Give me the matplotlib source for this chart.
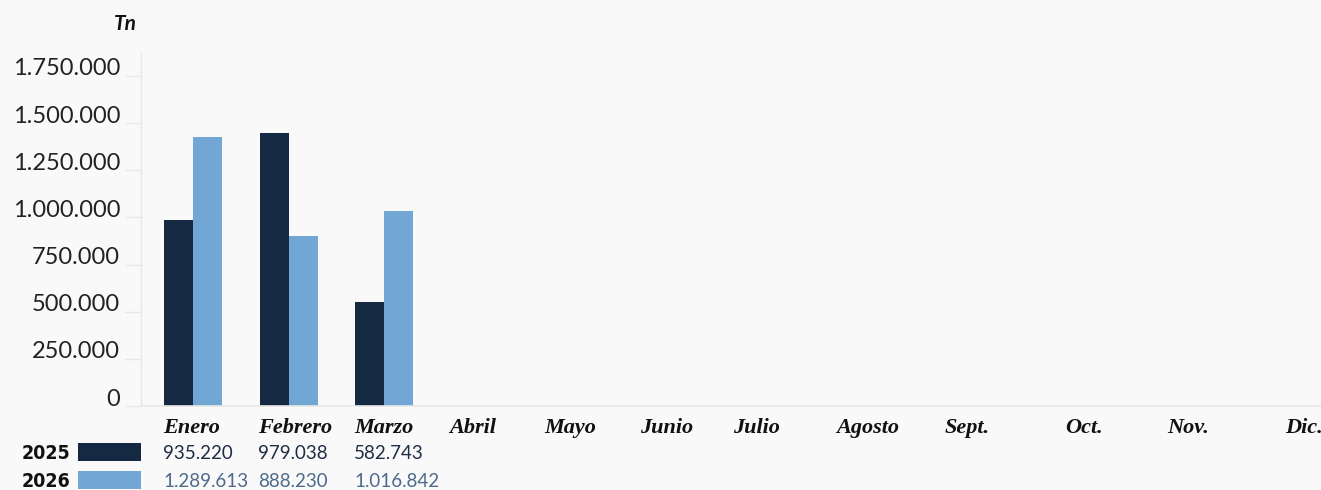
import matplotlib
matplotlib.use("Agg")
import matplotlib.pyplot as plt
import numpy as np
from matplotlib.patches import Rectangle
from matplotlib.transforms import ScaledTranslation

# data
months = ["Enero", "Febrero", "Marzo", "Abril", "Mayo", "Junio", "Julio",
          "Agosto", "Sept.", "Oct.", "Nov.", "Dic."]
series_years = ["2025", "2026"]
bars_2025 = [986000, 1447000, 551000]
bars_2026 = [1426000, 901000, 1034000]
table_2025 = [935220, 979038, 582743]
table_2026 = [1289613, 888230, 1016842]
y_ticks = [0, 250000, 500000, 750000, 1000000, 1250000, 1500000, 1750000]

# layout (pixels of the 1321x490 canvas)
W, H = 1321, 490
COL_LEFT = [163, 258, 354, 449, 544, 640, 733, 836, 945, 1065, 1167, 1285]
DARK = "#152a42"
LIGHT = "#72a6d5"
BG = "#f9f9f9"
LINE = "#e8e8e8"


def fx(x):
    return x / W


def fy(y):
    return 1 - y / H


def fmt(v):
    return f"{int(v):,}".replace(",", ".")


fig = plt.figure(figsize=(W / 100, H / 100), dpi=100, facecolor=BG)

ax_left, ax_right, ax_top, ax_bottom = 141, 1321, 53, 406
ax = fig.add_axes([fx(ax_left), fy(ax_bottom), fx(ax_right - ax_left), (ax_bottom - ax_top) / H])
ax.set_facecolor(BG)

step_px = 95.5
first_center = 193
bar_w = 29 / step_px
ax.set_xlim((ax_left - first_center) / step_px, (ax_right - first_center) / step_px)
px_per_million = 188.6
ax.set_ylim(0, (ax_bottom - ax_top) / px_per_million * 1e6)

idx = np.arange(len(bars_2025))
ax.bar(idx - bar_w / 2, bars_2025, width=bar_w, color=DARK, linewidth=0)
ax.bar(idx + bar_w / 2, bars_2026, width=bar_w, color=LIGHT, linewidth=0)

for side in ["top", "right"]:
    ax.spines[side].set_visible(False)
ax.spines["left"].set_color(LINE)
ax.spines["bottom"].set_color(LINE)
ax.spines["left"].set_linewidth(1)
ax.spines["bottom"].set_linewidth(1.2)
ax.set_xticks([])
ax.set_yticks(y_ticks)
ax.set_yticklabels([fmt(v) for v in y_ticks])
ax.tick_params(axis="y", length=11.5, width=1, color=LINE, pad=3.6,
               labelsize=17, labelcolor="#222222")
for lab in ax.get_yticklabels():
    lab.set_fontfamily("Lato")
    lab.set_transform(lab.get_transform() + ScaledTranslation(0, 0.09, fig.dpi_scale_trans))

# unit label
fig.text(fx(125), fy(24), "Tn", ha="center", va="center", fontsize=15,
         fontfamily="Lato", fontweight="bold", fontstyle="italic", color="#111111")

# month header row
for left, name in zip(COL_LEFT, months):
    fig.text(fx(left), fy(428), name, ha="left", va="center", fontsize=16,
             fontfamily="Liberation Serif", fontweight="bold", fontstyle="italic",
             color="#111111")

# legend + value rows
rows = [(series_years[0], DARK, table_2025, "#1f2d45", 453, 443),
        (series_years[1], LIGHT, table_2026, "#4d6a8a", 481, 471)]
for year, swatch, vals, tcolor, ycen, ytop in rows:
    fig.text(fx(70), fy(ycen), year, ha="right", va="center", fontsize=14,
             fontfamily="DejaVu Sans", fontstretch="condensed", fontweight="bold",
             color="#111111")
    fig.patches.append(Rectangle((fx(78), fy(ytop + 18)), fx(63), 18 / H,
                                 transform=fig.transFigure, color=swatch, linewidth=0))
    for left, v in zip(COL_LEFT, vals):
        fig.text(fx(left), fy(ycen), fmt(v), ha="left", va="center", fontsize=13.5,
                 fontfamily="Lato", color=tcolor)

fig.savefig("out.png", dpi=100, facecolor=BG)
